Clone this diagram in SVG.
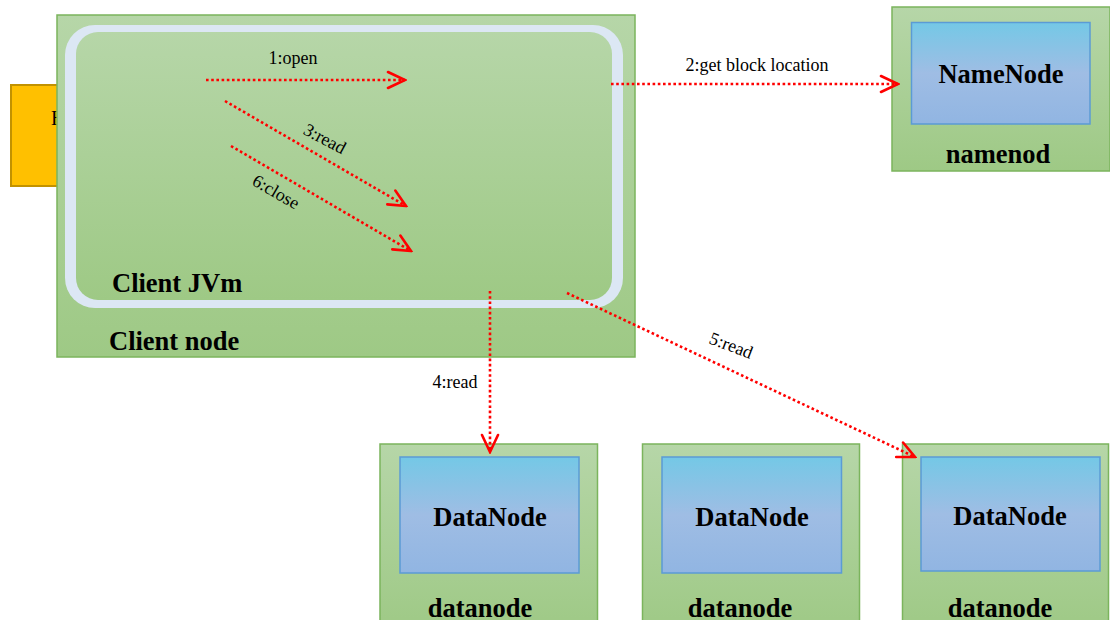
<svg xmlns="http://www.w3.org/2000/svg" width="1110" height="620" viewBox="0 0 1110 620">
  <defs>
    <linearGradient id="greenFill" x1="0" y1="0" x2="0" y2="1">
      <stop offset="0" stop-color="#b6d6a8"/>
      <stop offset="1" stop-color="#9ec985"/>
    </linearGradient>
    <linearGradient id="blueFill" x1="0" y1="0" x2="0" y2="1">
      <stop offset="0" stop-color="#74c8e6"/>
      <stop offset="0.5" stop-color="#9fbde4"/>
      <stop offset="1" stop-color="#91b5e2"/>
    </linearGradient>
    <marker id="openHead" viewBox="-20 -10 22 20" refX="0" refY="0" markerWidth="22" markerHeight="20" markerUnits="userSpaceOnUse" orient="auto">
      <path d="M-17,-8 L0,0 L-17,8" fill="none" stroke="#ff0000" stroke-width="2.6" stroke-linecap="round"/>
    </marker>
  </defs>
  <style>
    .host { fill: url(#greenFill); stroke: #7bb45c; stroke-width: 1.5; }
    .svc { fill: url(#blueFill); stroke: #5b9bd5; stroke-width: 1.5; }
    .bold { font-family: "Liberation Serif", "Times New Roman", serif; font-weight: bold; font-size: 26.5px; fill: #000; }
    .lbl { font-family: "Liberation Serif", "Times New Roman", serif; font-size: 18px; fill: #000; }
    .flow { fill: none; stroke: #ff0000; stroke-width: 2.6; stroke-dasharray: 2.6 2.6; marker-end: url(#openHead); }
  </style>

  <rect width="1110" height="620" fill="#ffffff"/>

  <!-- application box, mostly hidden behind the client node -->
  <g id="app">
    <rect x="11" y="85" width="60" height="101" fill="#ffc000" stroke="#c29200" stroke-width="2"/>
    <text x="51" y="125" font-family="Liberation Serif, serif" font-size="20" fill="#000">H</text>
  </g>

  <!-- client node with its JVM -->
  <g id="client-node">
    <rect class="host" x="57" y="15" width="578" height="342"/>
    <rect x="65" y="25" width="558" height="283" rx="30" ry="30" fill="#dce7f4"/>
    <rect x="76" y="32" width="536" height="268" rx="22" ry="22" fill="url(#greenFill)"/>
    <text class="bold" x="112" y="292">Client JVm</text>
    <text class="bold" x="109" y="350">Client node</text>
  </g>

  <g id="namenode">
    <rect class="host" x="892" y="7" width="218" height="164"/>
    <rect class="svc" x="911.5" y="22.5" width="178.5" height="101.5"/>
    <text class="bold" x="1001" y="83" text-anchor="middle">NameNode</text>
    <text class="bold" x="998" y="163" text-anchor="middle">namenod</text>
  </g>

  <g id="datanode-1">
    <rect class="host" x="380" y="444" width="217.5" height="190"/>
    <rect class="svc" x="400" y="457" width="179" height="116"/>
    <text class="bold" x="490" y="526" text-anchor="middle">DataNode</text>
    <text class="bold" x="480" y="617" text-anchor="middle">datanode</text>
  </g>

  <g id="datanode-2">
    <rect class="host" x="642.5" y="444" width="217" height="190"/>
    <rect class="svc" x="662" y="457" width="179.5" height="116"/>
    <text class="bold" x="752" y="526" text-anchor="middle">DataNode</text>
    <text class="bold" x="740" y="617" text-anchor="middle">datanode</text>
  </g>

  <g id="datanode-3">
    <rect class="host" x="902.5" y="444" width="206" height="190"/>
    <rect class="svc" x="921" y="457" width="179" height="114"/>
    <text class="bold" x="1010" y="525" text-anchor="middle">DataNode</text>
    <text class="bold" x="1000" y="617" text-anchor="middle">datanode</text>
  </g>

  <!-- request flow -->
  <g id="connectors">
    <line class="flow" x1="206" y1="80" x2="405" y2="80"/>
    <text class="lbl" x="293" y="64" text-anchor="middle">1:open</text>

    <line class="flow" x1="611" y1="84" x2="898" y2="84"/>
    <text class="lbl" x="757" y="71" text-anchor="middle">2:get block location</text>

    <line class="flow" x1="225" y1="101" x2="406" y2="206"/>
    <text class="lbl" text-anchor="middle" transform="translate(322,144) rotate(28)">3:read</text>

    <line class="flow" x1="231" y1="146" x2="411" y2="251"/>
    <text class="lbl" text-anchor="middle" transform="translate(273,197) rotate(30)">6:close</text>

    <line class="flow" x1="490" y1="291" x2="490" y2="452"/>
    <text class="lbl" x="455" y="388" text-anchor="middle">4:read</text>

    <line class="flow" x1="567" y1="293" x2="915" y2="457"/>
    <text class="lbl" text-anchor="middle" transform="translate(729,351) rotate(21)">5:read</text>
  </g>
</svg>
